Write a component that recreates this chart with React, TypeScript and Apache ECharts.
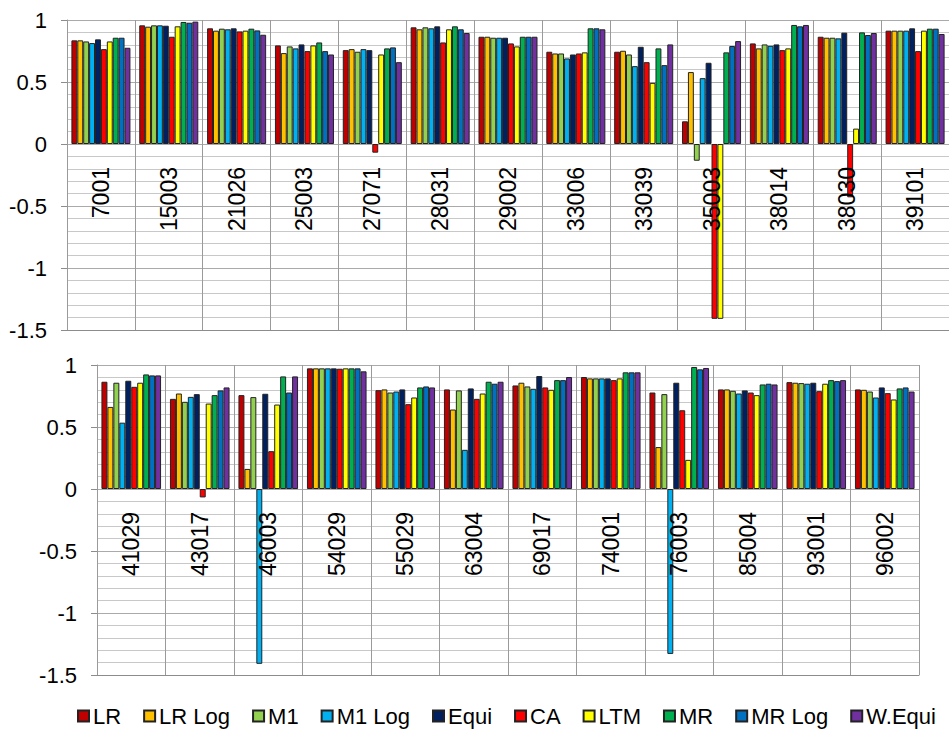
import React, { useEffect, useRef } from "react";
import * as echarts from "echarts";

const SERIES_NAMES = ["LR", "LR Log", "M1", "M1 Log", "Equi", "CA", "LTM", "MR", "MR Log", "W.Equi"];
const SERIES_COLORS = ["#C00000", "#FFC000", "#92D050", "#00B0F0", "#002060", "#FF0000", "#FFFF00", "#00B050", "#0070C0", "#7030A0"];

const TOP_CATEGORIES = ["7001", "15003", "21026", "25003", "27071", "28031", "29002", "33006", "33039", "35003", "38014", "38030", "39101"];
const BOTTOM_CATEGORIES = ["41029", "43017", "46003", "54029", "55029", "63004", "69017", "74001", "76003", "85004", "93001", "96002"];

const Y_TICKS = [-1.5, -1, -0.5, 0, 0.5, 1];

// Top panel values, one array per series
const LR_TOP = [0.836, 0.957, 0.933, 0.795, 0.757, 0.941, 0.865, 0.744, 0.744, 0.183, 0.811, 0.865, 0.914];
const LR_LOG_TOP = [0.836, 0.946, 0.914, 0.733, 0.765, 0.925, 0.865, 0.73, 0.752, 0.58, 0.771, 0.857, 0.914];
const M1_TOP = [0.827, 0.957, 0.93, 0.787, 0.744, 0.941, 0.857, 0.73, 0.722, -0.135, 0.803, 0.857, 0.914];
const M1_LOG_TOP = [0.814, 0.957, 0.925, 0.771, 0.765, 0.933, 0.857, 0.69, 0.628, 0.531, 0.792, 0.852, 0.914];
const EQUI_TOP = [0.844, 0.954, 0.933, 0.803, 0.757, 0.949, 0.857, 0.722, 0.784, 0.655, 0.803, 0.898, 0.933];
const CA_TOP = [0.765, 0.865, 0.908, 0.749, -0.07, 0.819, 0.811, 0.73, 0.66, -1.41, 0.757, -0.43, 0.749];
const LTM_TOP = [0.827, 0.949, 0.914, 0.795, 0.722, 0.925, 0.787, 0.739, 0.493, -1.41, 0.771, 0.124, 0.914];
const MR_TOP = [0.857, 0.984, 0.93, 0.819, 0.771, 0.949, 0.865, 0.933, 0.771, 0.739, 0.96, 0.9, 0.93];
const MR_LOG_TOP = [0.857, 0.978, 0.916, 0.749, 0.779, 0.925, 0.865, 0.933, 0.636, 0.79, 0.949, 0.879, 0.93];
const W_EQUI_TOP = [0.776, 0.987, 0.881, 0.722, 0.66, 0.895, 0.865, 0.925, 0.803, 0.83, 0.96, 0.895, 0.887];

// Bottom panel values, one array per series
const LR_BOTTOM = [0.865, 0.727, 0.757, 0.973, 0.797, 0.803, 0.835, 0.903, 0.778, 0.803, 0.862, 0.803];
const LR_LOG_BOTTOM = [0.662, 0.77, 0.162, 0.973, 0.803, 0.641, 0.857, 0.892, 0.338, 0.803, 0.857, 0.8];
const M1_BOTTOM = [0.857, 0.703, 0.741, 0.973, 0.778, 0.795, 0.827, 0.892, 0.765, 0.792, 0.854, 0.786];
const M1_LOG_BOTTOM = [0.535, 0.743, -1.41, 0.973, 0.786, 0.316, 0.808, 0.892, -1.33, 0.77, 0.849, 0.738];
const EQUI_BOTTOM = [0.873, 0.765, 0.768, 0.973, 0.803, 0.811, 0.911, 0.892, 0.857, 0.795, 0.857, 0.819];
const CA_BOTTOM = [0.824, -0.068, 0.305, 0.97, 0.684, 0.727, 0.819, 0.878, 0.635, 0.778, 0.789, 0.773];
const LTM_BOTTOM = [0.857, 0.689, 0.681, 0.973, 0.738, 0.77, 0.8, 0.892, 0.235, 0.757, 0.849, 0.722];
const MR_BOTTOM = [0.924, 0.757, 0.908, 0.973, 0.819, 0.865, 0.878, 0.941, 0.984, 0.843, 0.878, 0.811];
const MR_LOG_BOTTOM = [0.916, 0.795, 0.778, 0.973, 0.827, 0.849, 0.878, 0.941, 0.965, 0.849, 0.87, 0.819];
const W_EQUI_BOTTOM = [0.916, 0.819, 0.908, 0.949, 0.819, 0.865, 0.903, 0.941, 0.976, 0.843, 0.878, 0.786];

const TOP_VALUES = [LR_TOP, LR_LOG_TOP, M1_TOP, M1_LOG_TOP, EQUI_TOP, CA_TOP, LTM_TOP, MR_TOP, MR_LOG_TOP, W_EQUI_TOP];
const BOTTOM_VALUES = [LR_BOTTOM, LR_LOG_BOTTOM, M1_BOTTOM, M1_LOG_BOTTOM, EQUI_BOTTOM, CA_BOTTOM, LTM_BOTTOM, MR_BOTTOM, MR_LOG_BOTTOM, W_EQUI_BOTTOM];

const FONT = "'Liberation Sans', Arial, sans-serif";

function makeYAxis(gridIndex: number) {
  return {
    type: "value",
    gridIndex,
    min: Y_TICKS[0],
    max: Y_TICKS[Y_TICKS.length - 1],
    interval: 0.5,
    axisLine: { show: true, lineStyle: { color: "#8c8c8c", width: 1 } },
    axisTick: { show: true, length: 6, lineStyle: { color: "#8c8c8c" } },
    axisLabel: { fontSize: 22, color: "#000", margin: 20, fontFamily: FONT },
    splitLine: { show: true, lineStyle: { color: "#aaaaaa", width: 1 } },
    minorTick: { show: false, splitNumber: 5 },
    minorSplitLine: { show: true, lineStyle: { color: "#c8c8c8", width: 1 } },
  };
}

function makeXAxis(gridIndex: number, data: string[]) {
  return {
    type: "category",
    gridIndex,
    data,
    z: 5,
    axisLine: { show: true, onZero: false, lineStyle: { color: "#8c8c8c", width: 1 } },
    axisTick: { show: false },
    axisLabel: { rotate: 90, margin: -163, fontSize: 23, color: "#000", interval: 0, fontFamily: FONT },
    splitLine: { show: true, interval: 0, lineStyle: { color: "#9a9a9a", width: 1 } },
  };
}

export default function App() {
  const ref = useRef<HTMLDivElement>(null);

  useEffect(() => {
    if (!ref.current) return;
    const chart = echarts.init(ref.current, null, { renderer: "svg" });

    const series: any[] = [];
    SERIES_NAMES.forEach((name, i) => {
      series.push({
        name,
        type: "bar",
        xAxisIndex: 0,
        yAxisIndex: 0,
        data: TOP_VALUES[i],
        barGap: "0%",
        barCategoryGap: "13%",
        itemStyle: { color: SERIES_COLORS[i], borderColor: "#222222", borderWidth: 1 },
      });
    });
    SERIES_NAMES.forEach((name, i) => {
      series.push({
        name,
        type: "bar",
        xAxisIndex: 1,
        yAxisIndex: 1,
        data: BOTTOM_VALUES[i],
        barGap: "0%",
        barCategoryGap: "13%",
        itemStyle: { color: SERIES_COLORS[i], borderColor: "#222222", borderWidth: 1 },
      });
    });

    chart.setOption({
      animation: false,
      backgroundColor: "#ffffff",
      textStyle: { fontFamily: FONT },
      grid: [
        { left: 67, top: 20, width: 884, height: 310, containLabel: false },
        { left: 97, top: 365, width: 822, height: 310, containLabel: false },
      ],
      xAxis: [makeXAxis(0, TOP_CATEGORIES), makeXAxis(1, BOTTOM_CATEGORIES)],
      yAxis: [makeYAxis(0), makeYAxis(1)],
      legend: {
        data: SERIES_NAMES,
        left: 77,
        top: 705,
        itemWidth: 11,
        itemHeight: 11,
        itemGap: 22,
        icon: "rect",
        textStyle: { fontSize: 22, color: "#000", fontFamily: FONT, padding: [0, 0, 0, -1] },
        padding: 0,
      },
      series,
    });

    return () => {
      chart.dispose();
    };
  }, []);

  return (
    <div
      ref={ref}
      style={{ position: "fixed", left: 0, top: 0, width: 949, height: 731, background: "#fff" }}
    />
  );
}
